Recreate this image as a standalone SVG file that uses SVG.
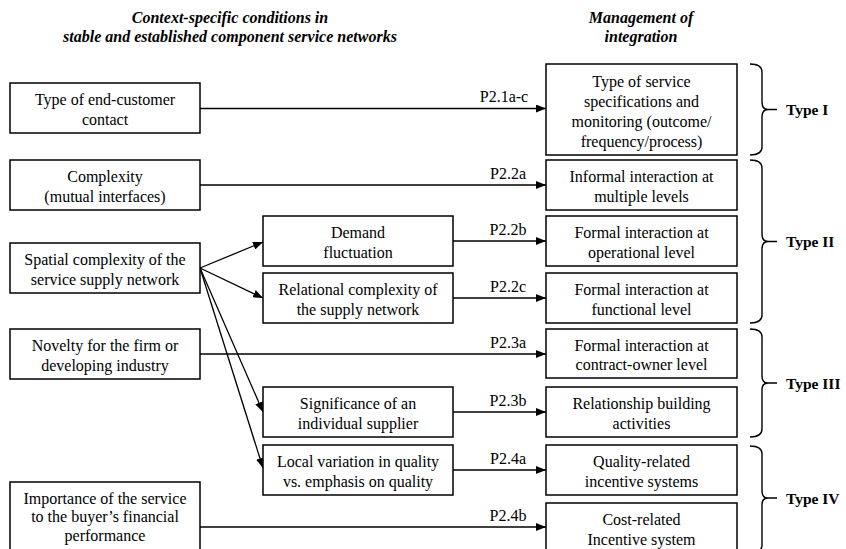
<svg xmlns="http://www.w3.org/2000/svg" width="846" height="549" viewBox="0 0 846 549">
  <style>
    .box { fill: #ffffff; stroke: #000000; stroke-width: 1.5; }
    .t { font-family: "Liberation Serif", "Times New Roman", serif; font-size: 16px; fill: #000000; text-anchor: middle; }
    .head { font-family: "Liberation Serif", "Times New Roman", serif; font-size: 16px; font-weight: bold; font-style: italic; fill: #000000; text-anchor: middle; }
    .lbl { font-family: "Liberation Serif", "Times New Roman", serif; font-size: 16px; fill: #000000; text-anchor: middle; }
    .type { font-family: "Liberation Serif", "Times New Roman", serif; font-size: 15.5px; font-weight: bold; fill: #000000; }
    .edge { fill: none; stroke: #000000; stroke-width: 1.3; marker-end: url(#arrow); }
    .brace { fill: none; stroke: #000000; stroke-width: 1.4; }
  </style>
  <defs>
    <marker id="arrow" viewBox="0 0 10 8" refX="10" refY="4" markerWidth="10" markerHeight="8" markerUnits="userSpaceOnUse" orient="auto">
      <path d="M0,0 L10,4 L0,8 Z" fill="#000000"/>
    </marker>
  </defs>

  <rect width="846" height="549" fill="#ffffff"/>

  <!-- column headings -->
  <g id="heading-conditions">
    <text class="head" x="230" y="23">Context-specific conditions in</text>
    <text class="head" x="230" y="42">stable and established component service networks</text>
  </g>
  <g id="heading-management">
    <text class="head" x="641" y="23">Management of</text>
    <text class="head" x="641" y="42">integration</text>
  </g>

  <!-- connectors -->
  <g id="connectors">
    <line class="edge" x1="200" y1="108.5" x2="546" y2="108.5"/>
    <line class="edge" x1="200" y1="185" x2="546" y2="185"/>
    <line class="edge" x1="200" y1="268" x2="263" y2="242"/>
    <line class="edge" x1="200" y1="268" x2="263" y2="298"/>
    <line class="edge" x1="200" y1="268" x2="263" y2="412"/>
    <line class="edge" x1="200" y1="268" x2="263" y2="468"/>
    <line class="edge" x1="453" y1="241" x2="546" y2="241"/>
    <line class="edge" x1="453" y1="298" x2="546" y2="298"/>
    <line class="edge" x1="200" y1="354" x2="546" y2="354"/>
    <line class="edge" x1="453" y1="412" x2="546" y2="412"/>
    <line class="edge" x1="453" y1="470" x2="546" y2="470"/>
    <line class="edge" x1="200" y1="527" x2="546" y2="527"/>
    <text class="lbl" x="504" y="102">P2.1a-c</text>
    <text class="lbl" x="508" y="179">P2.2a</text>
    <text class="lbl" x="508" y="235">P2.2b</text>
    <text class="lbl" x="508" y="292">P2.2c</text>
    <text class="lbl" x="508" y="348">P2.3a</text>
    <text class="lbl" x="508" y="406">P2.3b</text>
    <text class="lbl" x="508" y="464">P2.4a</text>
    <text class="lbl" x="508" y="521">P2.4b</text>
  </g>

  <!-- left column: context conditions -->
  <g id="end-customer-contact">
    <rect class="box" x="10" y="83" width="190" height="50"/>
    <text class="t" x="105" y="105">Type of end-customer</text>
    <text class="t" x="105" y="124.5">contact</text>
  </g>
  <g id="complexity">
    <rect class="box" x="10" y="160" width="190" height="50"/>
    <text class="t" x="105" y="182">Complexity</text>
    <text class="t" x="105" y="201.5">(mutual interfaces)</text>
  </g>
  <g id="spatial-complexity">
    <rect class="box" x="10" y="243" width="190" height="50"/>
    <text class="t" x="105" y="265">Spatial complexity of the</text>
    <text class="t" x="105" y="284.5">service supply network</text>
  </g>
  <g id="novelty">
    <rect class="box" x="10" y="329" width="190" height="50"/>
    <text class="t" x="105" y="351">Novelty for the firm or</text>
    <text class="t" x="105" y="370.5">developing industry</text>
  </g>
  <g id="financial-importance">
    <rect class="box" x="10" y="482" width="190" height="76"/>
    <text class="t" x="105" y="503.5">Importance of the service</text>
    <text class="t" x="105" y="522">to the buyer’s financial</text>
    <text class="t" x="105" y="540.5">performance</text>
  </g>

  <!-- middle column: derived conditions -->
  <g id="demand-fluctuation">
    <rect class="box" x="263" y="216" width="190" height="50"/>
    <text class="t" x="358" y="238">Demand</text>
    <text class="t" x="358" y="257.5">fluctuation</text>
  </g>
  <g id="relational-complexity">
    <rect class="box" x="263" y="273" width="190" height="50"/>
    <text class="t" x="358" y="295">Relational complexity of</text>
    <text class="t" x="358" y="314.5">the supply network</text>
  </g>
  <g id="supplier-significance">
    <rect class="box" x="263" y="387" width="190" height="50"/>
    <text class="t" x="358" y="409">Significance of an</text>
    <text class="t" x="358" y="428.5">individual supplier</text>
  </g>
  <g id="quality-variation">
    <rect class="box" x="263" y="445" width="190" height="50"/>
    <text class="t" x="358" y="467">Local variation in quality</text>
    <text class="t" x="358" y="486.5">vs. emphasis on quality</text>
  </g>

  <!-- right column: management of integration -->
  <g id="service-specifications">
    <rect class="box" x="546" y="64" width="191" height="91"/>
    <text class="t" x="641.5" y="87">Type of service</text>
    <text class="t" x="641.5" y="107">specifications and</text>
    <text class="t" x="641.5" y="127">monitoring (outcome/</text>
    <text class="t" x="641.5" y="147">frequency/process)</text>
  </g>
  <g id="informal-interaction">
    <rect class="box" x="546" y="160" width="191" height="50"/>
    <text class="t" x="641.5" y="182">Informal interaction at</text>
    <text class="t" x="641.5" y="201.5">multiple levels</text>
  </g>
  <g id="formal-operational">
    <rect class="box" x="546" y="216" width="191" height="50"/>
    <text class="t" x="641.5" y="238">Formal interaction at</text>
    <text class="t" x="641.5" y="257.5">operational level</text>
  </g>
  <g id="formal-functional">
    <rect class="box" x="546" y="273" width="191" height="50"/>
    <text class="t" x="641.5" y="295">Formal interaction at</text>
    <text class="t" x="641.5" y="314.5">functional level</text>
  </g>
  <g id="formal-contract-owner">
    <rect class="box" x="546" y="329" width="191" height="49"/>
    <text class="t" x="641.5" y="350.5">Formal interaction at</text>
    <text class="t" x="641.5" y="370">contract-owner level</text>
  </g>
  <g id="relationship-building">
    <rect class="box" x="546" y="387" width="191" height="50"/>
    <text class="t" x="641.5" y="409">Relationship building</text>
    <text class="t" x="641.5" y="428.5">activities</text>
  </g>
  <g id="quality-incentives">
    <rect class="box" x="546" y="445" width="191" height="50"/>
    <text class="t" x="641.5" y="467">Quality-related</text>
    <text class="t" x="641.5" y="486.5">incentive systems</text>
  </g>
  <g id="cost-incentives">
    <rect class="box" x="546" y="503" width="191" height="55"/>
    <text class="t" x="641.5" y="525">Cost-related</text>
    <text class="t" x="641.5" y="544.5">Incentive system</text>
  </g>

  <!-- type braces -->
  <g id="type-1">
    <path class="brace" d="M750,64 Q762,64 762,72 V102 Q762,109.5 768,109.5 H777 M768,109.5 Q762,109.5 762,117 V147 Q762,155 750,155"/>
    <text class="type" x="786" y="115">Type I</text>
  </g>
  <g id="type-2">
    <path class="brace" d="M750,160 Q762,160 762,168 V234 Q762,241.5 768,241.5 H777 M768,241.5 Q762,241.5 762,249 V315 Q762,323 750,323"/>
    <text class="type" x="786" y="247">Type II</text>
  </g>
  <g id="type-3">
    <path class="brace" d="M750,329 Q762,329 762,337 V376 Q762,383 768,383 H777 M768,383 Q762,383 762,390 V429 Q762,437 750,437"/>
    <text class="type" x="786" y="389">Type III</text>
  </g>
  <g id="type-4">
    <path class="brace" d="M750,446 Q762,446 762,454 V491 Q762,498 768,498 H777 M768,498 Q762,498 762,505 V545 Q762,553 750,553"/>
    <text class="type" x="786" y="504">Type IV</text>
  </g>
</svg>
